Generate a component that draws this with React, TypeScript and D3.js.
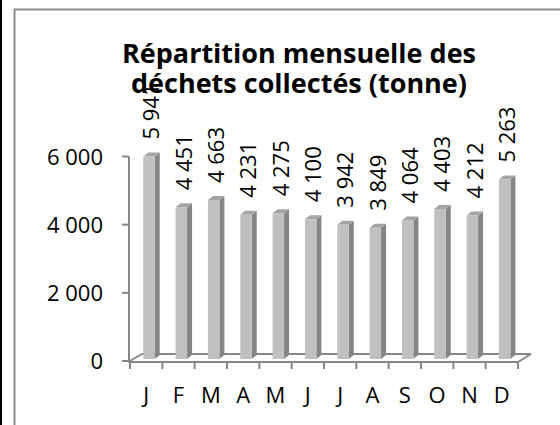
import React from "react";
import * as d3 from "d3";

const months = ["J", "F", "M", "A", "M", "J", "J", "A", "S", "O", "N", "D"];
const tonnes = [5941, 4451, 4663, 4231, 4275, 4100, 3942, 3849, 4064, 4403, 4212, 5263];
const yTicks = [0, 2000, 4000, 6000];
const titleLines = ["Répartition mensuelle des", "déchets collectés (tonne)"];

const W = 560;
const H = 425;
const FONT = "'Open Sans', 'DejaVu Sans', sans-serif";
const AXIS = "#868686";

const fr = d3.formatLocale({ decimal: ",", thousands: " ", grouping: [3], currency: ["", " €"] });
const fmt = fr.format(",d");

export default function App() {
  const x = d3.scaleBand<number>().domain(d3.range(months.length)).range([130, 518]);
  const y = d3.scaleLinear().domain([0, 6000]).range([361, 156.5]);
  const bw = x.bandwidth();
  const faceW = bw * 0.355;
  const dx = 5;
  const dy = -4;
  const floorFront = 362;
  const floorBack = 354;

  return (
    <svg width={W} height={H} style={{ position: "absolute", left: 0, top: 0, background: "#fff" }}>
      {/* bit of neighbouring picture on the left */}
      <rect x={0} y={0} width={2} height={H} fill="#000" />
      {/* frame */}
      <rect x={14.5} y={9.5} width={W} height={H} fill="none" stroke="#8e8e8e" strokeWidth={2} />

      {/* floor */}
      <g stroke={AXIS} strokeWidth={2} fill="none">
        <line x1={x.range()[0] - 2} y1={floorFront} x2={x.range()[1]} y2={floorFront} />
        <line x1={x.range()[0] - 2} y1={floorFront} x2={x.range()[0] + 12} y2={floorBack} />
        <line x1={x.range()[0] + 12} y1={floorBack} x2={x.range()[1] + 13} y2={floorBack} />
        <line x1={x.range()[1]} y1={floorFront} x2={x.range()[1] + 13} y2={floorBack} />
        {/* vertical axis */}
        <line x1={129} y1={y(6000)} x2={129} y2={floorFront} />
        {yTicks.map((t) => (
          <line key={t} x1={122} y1={y(t)} x2={129} y2={y(t)} />
        ))}
        {d3.range(months.length + 1).map((i) => {
          const xx = i < months.length ? x(i)! : x.range()[1];
          return <line key={i} x1={xx} y1={floorFront} x2={xx} y2={369} />;
        })}
      </g>

      {/* y labels */}
      {yTicks.map((t) => (
        <text key={t} x={103} y={y(t) + 8} textAnchor="end" fontFamily={FONT} fontSize={22} fill="#000">
          {fmt(t)}
        </text>
      ))}

      {/* x labels */}
      {months.map((m, i) => (
        <text key={i} x={x(i)! + bw / 2} y={403} textAnchor="middle" fontFamily={FONT} fontSize={22} fill="#000">
          {m}
        </text>
      ))}

      {/* bars */}
      {tonnes.map((v, i) => {
        const x0 = x(i)! + bw * 0.41;
        const x1 = x0 + faceW;
        const top = y(v) - 2;
        const base = 359;
        return (
          <g key={i}>
            <path d={`M${x1},${top}L${x1 + dx},${top + dy}L${x1 + dx},${base + dy}L${x1},${base}Z`} fill="#858585" />
            <path d={`M${x0},${top}L${x0 + dx},${top + dy}L${x1 + dx},${top + dy}L${x1},${top}Z`} fill="#a4a4a4" />
            <rect x={x0} y={top} width={faceW} height={base - top} fill="#c0c0c0" />
          </g>
        );
      })}

      {/* value labels */}
      {tonnes.map((v, i) => {
        const cx = x(i)! + bw * 0.41 + (faceW + dx) / 2;
        const ty = y(v) - 2 + dy - 13;
        return (
          <text
            key={i}
            transform={`translate(${cx},${ty}) rotate(-90)`}
            dy="0.36em"
            fontFamily={FONT}
            fontSize={22}
            fill="#000"
          >
            {fmt(v)}
          </text>
        );
      })}

      {/* title, two lines in one text */}
      <text x={299} y={63} textAnchor="middle" fontFamily={FONT} fontWeight="bold" fontSize={27} fill="#000">
        {titleLines.map((t, i) => (
          <tspan key={i} x={299} dy={i === 0 ? 0 : 30}>
            {t}
          </tspan>
        ))}
      </text>
    </svg>
  );
}
